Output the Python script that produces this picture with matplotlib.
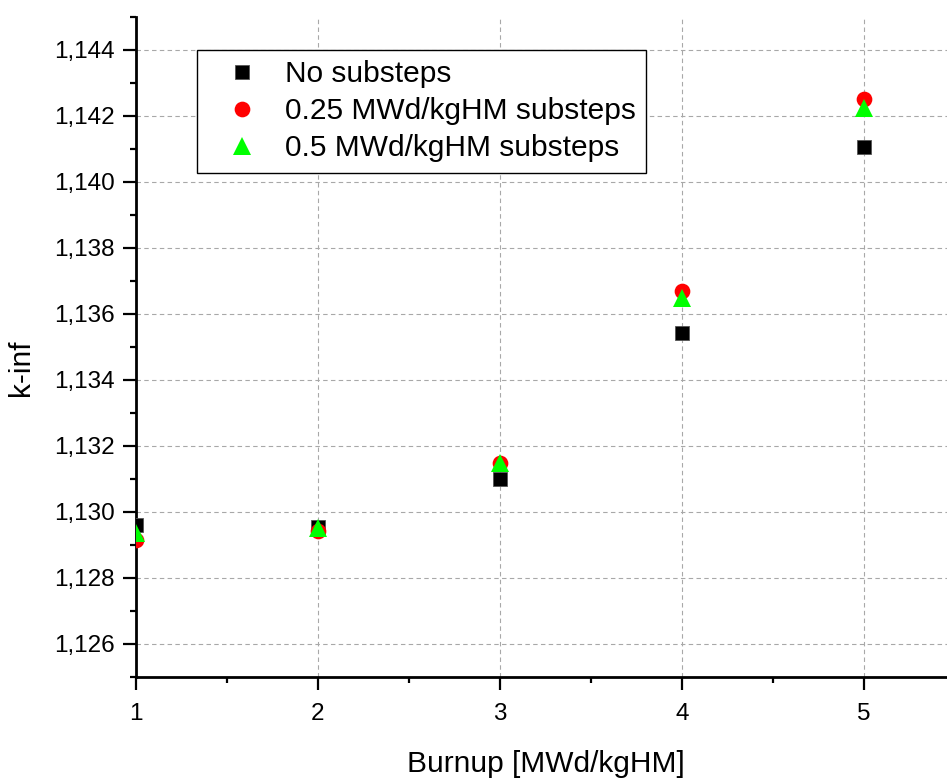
import matplotlib
matplotlib.use("Agg")
import matplotlib.pyplot as plt
from matplotlib.ticker import MultipleLocator, FuncFormatter

plt.rcParams['font.family'] = ['Liberation Sans', 'DejaVu Sans']

burnup = [1, 2, 3, 4, 5]
no_substeps = [1.1296, 1.12954, 1.1310, 1.13542, 1.14106]
sub_025 = [1.12915, 1.12942, 1.1315, 1.1367, 1.1425]
sub_05 = [1.12936, 1.12952, 1.13148, 1.13648, 1.14224]
labels = ["No substeps", "0.25 MWd/kgHM substeps", "0.5 MWd/kgHM substeps"]

W, H = 947, 780
fig = plt.figure(figsize=(W / 100, H / 100), dpi=100)
left, bottom, right, top = 136, 677, 947, 17
ax = fig.add_axes([left / W, (H - bottom) / H, (right - left) / W, (bottom - top) / H])

ax.plot(burnup, no_substeps, linestyle='none', marker='s', markersize=10,
        color='black', markeredgecolor='#555555', markeredgewidth=0.6, label=labels[0], zorder=3)
ax.plot(burnup, sub_025, linestyle='none', marker='o', markersize=11.3,
        color='#ff0000', markeredgewidth=0, label=labels[1], zorder=4)
ax.plot(burnup, sub_05, linestyle='none', marker='^', markersize=13,
        color='#00ff00', markeredgewidth=0, label=labels[2], zorder=5)

ax.set_xlim(1, 1 + (right - left) / 182.0)
ax.set_ylim(1.125, 1.145)

ax.xaxis.set_major_locator(MultipleLocator(1))
ax.xaxis.set_minor_locator(MultipleLocator(0.5))
ax.yaxis.set_major_locator(MultipleLocator(0.002))
ax.yaxis.set_minor_locator(MultipleLocator(0.001))
ax.yaxis.set_major_formatter(FuncFormatter(lambda v, p: f"{v:.3f}".replace('.', ',')))
ax.xaxis.set_major_formatter(FuncFormatter(lambda v, p: f"{int(round(v))}"))

for s in ['top', 'right']:
    ax.spines[s].set_visible(False)
for s in ['left', 'bottom']:
    ax.spines[s].set_linewidth(2.0)

ax.tick_params(axis='both', which='major', direction='out', length=9.5, width=1.6,
               labelsize=17.5, pad=6)
ax.tick_params(axis='x', which='major', pad=9)
ax.tick_params(axis='both', which='minor', direction='out', length=4.5, width=1.6)

ax.grid(True, which='major', color='#a8a8a8', linestyle=(0, (4, 3)), linewidth=0.8)
ax.set_axisbelow(True)

ax.set_xlabel("Burnup [MWd/kgHM]", fontsize=21.5)
ax.set_ylabel("k-inf", fontsize=21.5)
ax.xaxis.set_label_coords((406 + 686) / 2 / W * W / (right - left) - left / (right - left), (677 - 778) / (bottom - top))
ax.xaxis.label.set_va('bottom')
ax.yaxis.set_label_coords((35 - left) / (right - left), (bottom - 368) / (bottom - top))

leg = ax.legend(loc='upper left', bbox_to_anchor=(197 / W, (H - 50) / H),
                bbox_transform=fig.transFigure, borderaxespad=0, fontsize=21.5,
                frameon=True, fancybox=False, framealpha=1, edgecolor='black',
                numpoints=1, handlelength=2.34, handletextpad=0.25, borderpad=0.35,
                labelspacing=0.3)
leg.get_frame().set_linewidth(1.0)

fig.savefig("out.png", dpi=100)
